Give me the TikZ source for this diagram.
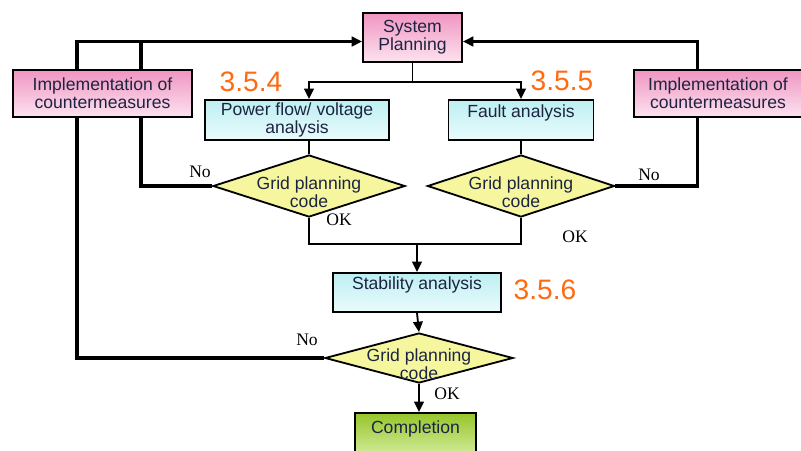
\documentclass[tikz,border=0pt]{standalone}
\usepackage{fontspec}
\setmainfont{Liberation Sans}
\newfontfamily\serifnote{Liberation Serif}
\usepackage{xcolor}
\usetikzlibrary{arrows.meta, positioning, shapes.geometric, calc}
\definecolor{rose}{HTML}{F095C2}
\definecolor{blush}{HTML}{FCE3EF}
\definecolor{aqua}{HTML}{BDEFF2}
\definecolor{mist}{HTML}{EAFBFC}
\definecolor{lemon}{HTML}{F5F69E}
\definecolor{lime}{HTML}{96C52A}
\definecolor{sprout}{HTML}{D9EFA6}
\definecolor{navy}{HTML}{1C2441}
\definecolor{tangerine}{HTML}{FF6A10}

\begin{document}
\begin{tikzpicture}[
  x=0.025cm, y=-0.025cm,
  font=\fontsize{12.5}{13}\selectfont,
  box/.style={rectangle, draw=black, line width=1.3pt, align=center,
              text=navy, inner sep=1pt},
  plan/.style={box, top color=rose, bottom color=blush},
  study/.style={box, top color=aqua, bottom color=mist},
  done/.style={box, top color=lime, bottom color=sprout},
  gptext/.style={align=center, text=navy, yshift=-0.16cm},
  gpcode/.style={diamond, draw=black, line width=1.3pt, fill=lemon,
                 inner sep=0pt, minimum width=4.8cm, minimum height=1.55cm,
                 label={[gptext]center:{Grid planning\\code}}},
  tip/.style={-{Triangle[length=2.6mm, width=2.4mm]}},
  link/.style={line width=1.3pt},
  fwd/.style={link, tip},
  back/.style={line width=2.3pt},
  secnum/.style={font=\fontsize{20}{20}\selectfont, text=tangerine},
  verdict/.style={font={\serifnote\fontsize{12.5}{13}\selectfont}},
]
\clip (0,0) rectangle (801,450);
% ---------------- boxes
\node[plan, minimum width=2.475cm, minimum height=1.225cm] (sp) at (412.5,37.5) {System\\Planning};
\node[plan, minimum width=4.475cm, minimum height=1.175cm] (il) at (102.5,93.5) {Implementation of\\countermeasures};
\node[plan, minimum width=4.2cm, minimum height=1.175cm] (ir) at (718,93.5) {Implementation of\\countermeasures};
\node[study, minimum width=4.6cm, minimum height=1cm, text depth=3pt] (pf) at (297,120) {Power flow/ voltage\\analysis};
\node[study, minimum width=3.625cm, minimum height=1cm] (fa) at (521,120) {Fault analysis\\~};
\node[gpcode] (d1) at (309,186) {};
\node[gpcode, minimum width=4.675cm] (d2) at (521,186) {};
\node[study, minimum width=4.2cm, minimum height=0.975cm] (sa) at (417,292.5) {Stability analysis\\~};
\node[gpcode, minimum width=4.7cm, minimum height=1.25cm] (d3) at (419,358) {};
\node[done, minimum width=3.025cm, minimum height=1.15cm] (cp) at (415.5,436) {Completion\\~};
% ---------------- section numbers and verdicts
\node[secnum] (s354) at (251,82) {3.5.4};
\node[secnum] (s355) at (562,81) {3.5.5};
\node[secnum] (s356) at (545,290) {3.5.6};
\node[verdict] (no1) at (200,172) {No};
\node[verdict] (no2) at (649,175) {No};
\node[verdict] (no3) at (307,340) {No};
\node[verdict] (ok1) at (339,220) {OK};
\node[verdict] (ok2) at (575,237) {OK};
\node[verdict] (ok3) at (447,394) {OK};
% ---------------- forward flow
\coordinate (split) at ($(sp.south)+(0,19)$);
\draw[link] (sp.south) -- (split);
\draw[fwd] (split) -| (d1.north |- pf.north);
\draw[fwd] (split) -| (fa.north);
\draw[link] (d1.north |- pf.south) -- (d1.north);
\draw[link] (fa.south) -- (d2.north);
\coordinate (merge) at ($(sa.north)+(0,-28)$);
\draw[link] (d1.south) |- (merge) -| (d2.south);
\draw[fwd] (merge) -- (sa.north);
\draw[fwd] (sa.south) -- (d3.north);
\draw[fwd] (d3.south) -- (d3.south |- cp.north);
% ---------------- feedback loops
\draw[back] (d1.west) -| ([xshift=0.9625cm]il.south);
\draw[back] ([xshift=0.9625cm]il.north) -- ([xshift=0.9625cm, yshift=-0.1cm]il.north |- sp.west);
\draw[back, tip] ([xshift=-0.6375cm]il.north) |- ([yshift=-0.1cm]sp.west);
\draw[back] (d3.west) -| ([xshift=-0.6375cm]il.south);
\draw[back] (d2.east) -| ([xshift=-0.5125cm]ir.south);
\draw[back, tip] ([xshift=-0.5125cm]ir.north) |- ([yshift=-0.1cm]sp.east);
\end{tikzpicture}
\end{document}
